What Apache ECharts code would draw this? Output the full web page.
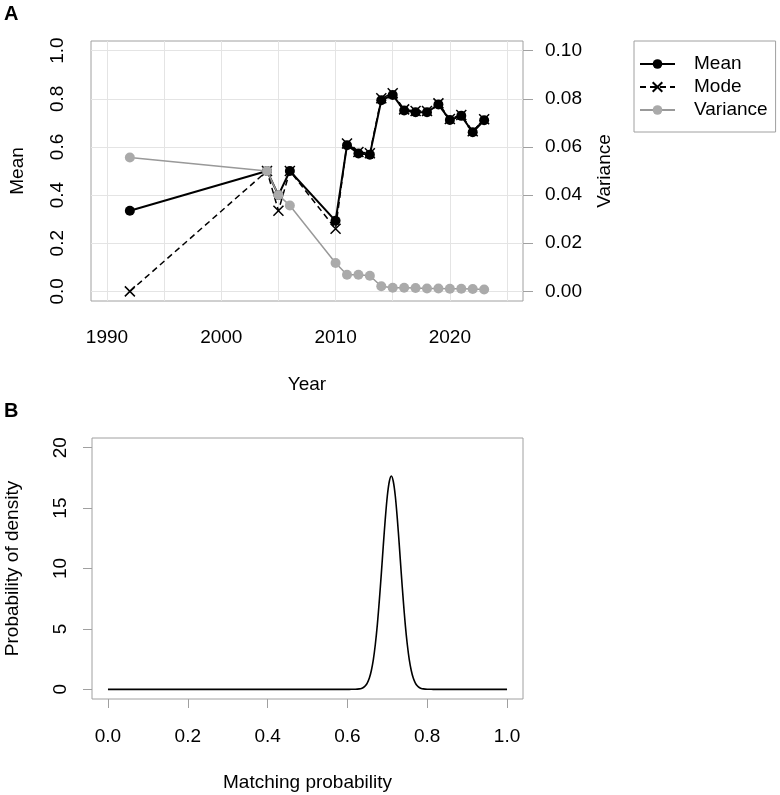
<!DOCTYPE html>
<html>
<head>
<meta charset="utf-8">
<title>Matching probability</title>
<script src="https://cdn.jsdelivr.net/npm/echarts@6/dist/echarts.min.js"></script>
<style>
html, body { margin: 0; padding: 0; background: #fff; }
#main { width: 780px; height: 795px; }
</style>
</head>
<body>
<div id="main"></div>
<script>
// panel A: yearly estimates
var years    = [1992, 2004, 2005, 2006, 2010, 2011, 2012, 2013, 2014, 2015, 2016, 2017, 2018, 2019, 2020, 2021, 2022, 2023];
var meanVals = [0.335, 0.50, 0.40, 0.50, 0.293, 0.607, 0.573, 0.568, 0.794, 0.816, 0.751, 0.744, 0.744, 0.776, 0.712, 0.729, 0.661, 0.711];
var modeVals = [0.0, 0.50, 0.335, 0.50, 0.26, 0.614, 0.579, 0.574, 0.802, 0.823, 0.756, 0.749, 0.749, 0.781, 0.716, 0.733, 0.665, 0.715];
var varVals  = [0.0556, 0.050, 0.040, 0.0357, 0.0118, 0.0069, 0.0069, 0.0065, 0.0021, 0.0015, 0.0015, 0.0014, 0.0012, 0.0012, 0.0011, 0.0011, 0.0010, 0.0008];

// panel B: density curve
var densX = [0, 0.60, 0.61, 0.62, 0.625, 0.63, 0.635, 0.64, 0.645, 0.65, 0.655, 0.66, 0.665, 0.67, 0.675, 0.68, 0.685, 0.69, 0.695, 0.70, 0.705,
             0.71, 0.715, 0.72, 0.725, 0.73, 0.735, 0.74, 0.745, 0.75, 0.755, 0.76, 0.765, 0.77, 0.775, 0.78, 0.785, 0.79, 0.795, 0.80, 0.81, 0.82, 1.0];
var densY = [0, 0, 0.002, 0.007, 0.016, 0.035, 0.075, 0.15, 0.29, 0.54, 0.93, 1.56, 2.46, 3.73, 5.36, 7.36, 9.58, 11.93, 14.15, 16.0, 17.2,
             17.65, 17.2, 16.0, 14.15, 11.93, 9.58, 7.36, 5.36, 3.73, 2.46, 1.56, 0.93, 0.54, 0.29, 0.15, 0.075, 0.035, 0.016, 0.007, 0.002, 0, 0];

// ticks / labels
var yearTicks  = [1990, 1995, 2000, 2005, 2010, 2015, 2020, 2025];
var yearLabels = [1990, 2000, 2010, 2020];
var meanTicks  = [0, 0.2, 0.4, 0.6, 0.8, 1.0];
var varTicks   = [0, 0.02, 0.04, 0.06, 0.08, 0.10];
var probTicks  = [0, 0.2, 0.4, 0.6, 0.8, 1.0];
var densTicks  = [0, 5, 10, 15, 20];

var FONT = 'Liberation Sans, Arial, Helvetica, sans-serif';
var BOX = '#a0a0a0';
var GRIDC = '#e4e4e4';

// R style: axis range padded 4% on each side
var pad = function(lo, hi) {
	var d = (hi - lo) * 0.04;
	return [lo - d, hi + d];
};

var zip = function(xs, ys) {
	var rtn = [];
	xs.forEach(function(x, i) {
		rtn.push([x, ys[i]]);
	});
	return rtn;
};

var xA = pad(1990, 2025), yA = pad(0, 1), vA = pad(0, 0.1);
var xB = pad(0, 1), yB = pad(0, 20);

var chart = echarts.init(document.getElementById('main'), null, {renderer: 'canvas'});

var option = {
	backgroundColor: '#fff',
	animation: false,
	textStyle: {fontFamily: FONT},
	title: [
		{text: 'A', left: 4, top: 4, padding: 0, textStyle: {fontSize: 20, fontWeight: 'bold', fontFamily: FONT, color: '#000'}},
		{text: 'B', left: 4, top: 401, padding: 0, textStyle: {fontSize: 20, fontWeight: 'bold', fontFamily: FONT, color: '#000'}}
	],
	legend: {
		orient: 'vertical',
		left: 634,
		top: 41,
		padding: [13, 8, 12, 5],
		borderColor: BOX,
		borderWidth: 1,
		itemWidth: 35,
		itemHeight: 12,
		itemGap: 3,
		textStyle: {fontSize: 19, color: '#000', fontFamily: FONT, lineHeight: 20, padding: [0, 0, 0, 14]},
		data: ['Mean', 'Mode', 'Variance']
	},
	grid: [
		{left: 91, top: 41, width: 432, height: 260, show: true, borderColor: BOX, borderWidth: 1, outerBoundsMode: 'none', containLabel: false},
		{left: 92, top: 438, width: 431, height: 261, show: true, borderColor: BOX, borderWidth: 1, outerBoundsMode: 'none', containLabel: false}
	],
	xAxis: [
		{
			type: 'value', gridIndex: 0, min: xA[0], max: xA[1],
			name: 'Year', nameLocation: 'middle', nameGap: 74,
			nameTextStyle: {fontSize: 19, color: '#000', fontFamily: FONT},
			axisLine: {show: false, onZero: false},
			axisTick: {show: false, customValues: yearTicks},
			axisLabel: {customValues: yearLabels, margin: 27, fontSize: 19, color: '#000', fontFamily: FONT,
				formatter: function(v) { return String(v); }},
			splitLine: {show: true, lineStyle: {color: GRIDC, width: 1}}
		},
		{
			type: 'value', gridIndex: 1, min: xB[0], max: xB[1],
			name: 'Matching probability', nameLocation: 'middle', nameGap: 74,
			nameTextStyle: {fontSize: 19, color: '#000', fontFamily: FONT},
			axisLine: {show: false, onZero: false},
			axisTick: {show: true, customValues: probTicks, length: 9, lineStyle: {color: BOX}},
			axisLabel: {customValues: probTicks, margin: 28, fontSize: 19, color: '#000', fontFamily: FONT,
				formatter: function(v) { return v.toFixed(1); }},
			splitLine: {show: false}
		}
	],
	yAxis: [
		{
			type: 'value', gridIndex: 0, min: yA[0], max: yA[1], position: 'left',
			name: 'Mean', nameLocation: 'middle', nameGap: 64, nameRotate: 90,
			nameTextStyle: {fontSize: 19, color: '#000', fontFamily: FONT},
			axisLine: {show: false, onZero: false},
			axisTick: {show: false, customValues: meanTicks},
			axisLabel: {customValues: meanTicks, rotate: 90, margin: 24, fontSize: 19, color: '#000', fontFamily: FONT,
				formatter: function(v) { return v.toFixed(1); }},
			splitLine: {show: true, lineStyle: {color: GRIDC, width: 1}}
		},
		{
			type: 'value', gridIndex: 0, min: vA[0], max: vA[1], position: 'right',
			name: 'Variance', nameLocation: 'middle', nameGap: 72, nameRotate: 90,
			nameTextStyle: {fontSize: 19, color: '#000', fontFamily: FONT},
			axisLine: {show: false, onZero: false},
			axisTick: {show: true, customValues: varTicks, length: 10, lineStyle: {color: BOX}},
			axisLabel: {customValues: varTicks, margin: 22, fontSize: 19, color: '#000', fontFamily: FONT,
				formatter: function(v) { return v.toFixed(2); }},
			splitLine: {show: false}
		},
		{
			type: 'value', gridIndex: 1, min: yB[0], max: yB[1], position: 'left',
			name: 'Probability of density', nameLocation: 'middle', nameGap: 70, nameRotate: 90,
			nameTextStyle: {fontSize: 19, color: '#000', fontFamily: FONT},
			axisLine: {show: false, onZero: false},
			axisTick: {show: true, customValues: densTicks, length: 9, lineStyle: {color: BOX}},
			axisLabel: {customValues: densTicks, rotate: 90, margin: 22, fontSize: 19, color: '#000', fontFamily: FONT},
			splitLine: {show: false}
		}
	],
	series: [
		{
			name: 'Mean', type: 'line', xAxisIndex: 0, yAxisIndex: 0,
			data: zip(years, meanVals),
			symbol: 'circle', symbolSize: 10,
			itemStyle: {color: '#000'},
			lineStyle: {color: '#000', width: 2}
		},
		{
			name: 'Mode', type: 'line', xAxisIndex: 0, yAxisIndex: 0,
			data: zip(years, modeVals),
			symbol: 'path://M0,0L10,10M10,0L0,10', symbolSize: 10,
			itemStyle: {color: 'rgba(0,0,0,0)', borderColor: '#000', borderWidth: 1.5},
			lineStyle: {color: '#000', width: 1.5, type: [6, 4]}
		},
		{
			name: 'Variance', type: 'line', xAxisIndex: 0, yAxisIndex: 1,
			data: zip(years, varVals),
			symbol: 'circle', symbolSize: 10,
			itemStyle: {color: '#aaaaaa'},
			lineStyle: {color: '#999999', width: 1.5}
		},
		{
			name: 'density', type: 'line', xAxisIndex: 1, yAxisIndex: 2,
			data: zip(densX, densY),
			showSymbol: false, symbol: 'none', smooth: 0.3,
			lineStyle: {color: '#000', width: 1.6}
		}
	]
};

chart.setOption(option);
</script>
</body>
</html>
